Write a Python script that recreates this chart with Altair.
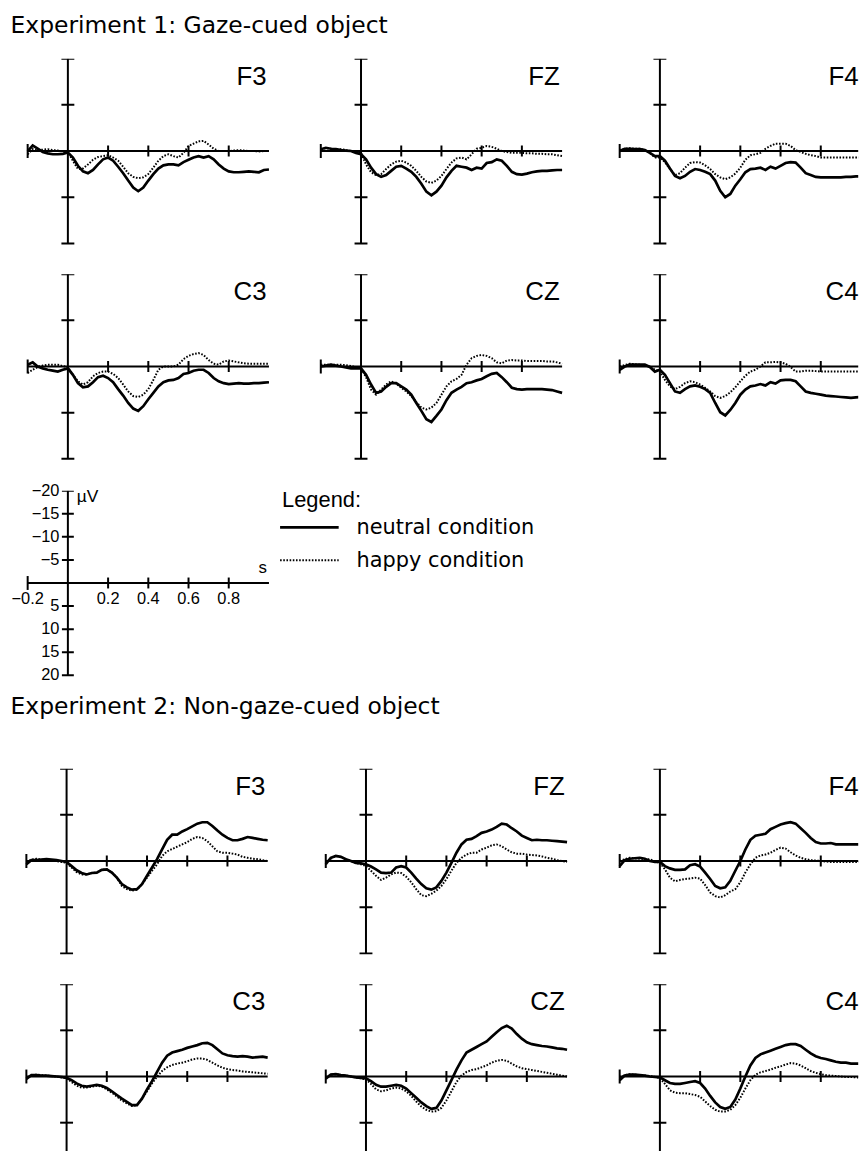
import altair as alt
import pandas as pd

# ---------------- data ----------------
T = [-0.2, -0.175, -0.15, -0.125, -0.1, -0.075, -0.05, -0.025,
     0.0, 0.025, 0.05, 0.075, 0.1, 0.125, 0.15, 0.175,
     0.2, 0.225, 0.25, 0.275, 0.3, 0.325, 0.35, 0.375,
     0.4, 0.425, 0.45, 0.475, 0.5, 0.525, 0.55, 0.575,
     0.6, 0.625, 0.65, 0.675, 0.7, 0.725, 0.75, 0.775,
     0.8, 0.825, 0.85, 0.875, 0.9, 0.925, 0.95, 0.975,
     1.0]

TITLE_1 = "Experiment 1: Gaze-cued object"
TITLE_2 = "Experiment 2: Non-gaze-cued object"
ELECTRODES = [["F3", "FZ", "F4"], ["C3", "CZ", "C4"]]

E1_F3_N = [0.0, -1.2, -0.5, 0.2, 0.5, 0.7, 0.7, 0.6, 0.3, 1.4, 3.2, 4.4, 4.8, 4.1, 2.9, 1.8, 1.4, 2.1, 3.4, 4.8, 6.4, 7.9, 8.7, 7.9, 6.4, 5.0, 3.8, 3.1, 2.9, 2.9, 3.1, 2.4, 1.9, 1.4, 1.1, 1.4, 1.1, 1.8, 2.9, 3.8, 4.4, 4.6, 4.6, 4.5, 4.4, 4.5, 4.6, 4.1, 4.0]
E1_F3_H = [0.7, -0.4, -0.2, -0.3, -0.4, -0.2, -0.1, 0.1, 0.2, 2.1, 3.9, 3.8, 2.9, 1.9, 1.3, 1.1, 0.9, 1.4, 2.1, 3.4, 4.8, 5.6, 5.9, 5.7, 5.0, 3.6, 2.1, 1.1, 0.7, 1.1, 1.4, 0.4, -1.1, -1.6, -2.1, -2.2, -1.4, -0.5, 0.0, 0.0, 0.0, -0.1, -0.2, -0.1, 0.0, 0.0, 0.1, 0.0, 0.0]
E1_FZ_N = [-0.4, -0.7, -0.5, -0.4, -0.2, -0.1, 0.0, 0.4, 0.7, 1.8, 3.6, 5.0, 5.6, 5.2, 4.3, 3.4, 3.2, 3.8, 4.5, 5.6, 7.1, 8.8, 9.6, 8.8, 7.5, 5.7, 4.3, 3.2, 3.4, 3.6, 4.1, 3.6, 3.8, 2.6, 2.4, 1.8, 2.1, 3.2, 4.5, 5.0, 5.1, 4.9, 4.6, 4.4, 4.3, 4.3, 4.2, 4.1, 4.1]
E1_FZ_H = [-0.4, -0.6, -0.5, -0.4, -0.4, -0.2, 0.0, 0.2, 0.4, 2.9, 4.6, 5.2, 5.0, 3.9, 2.9, 2.3, 2.1, 2.5, 3.2, 4.3, 5.6, 6.6, 6.9, 6.4, 5.4, 3.9, 2.5, 1.6, 1.4, 1.8, 0.7, -0.5, -0.7, -1.1, -0.9, -0.5, 0.0, 0.2, 0.4, 0.4, 0.4, 0.5, 0.5, 0.6, 0.6, 0.7, 0.7, 0.9, 1.1]
E1_F4_N = [0.0, -0.5, -0.5, -0.4, -0.4, -0.2, 0.4, 1.1, 1.1, 2.1, 3.8, 5.4, 5.9, 5.4, 4.5, 3.9, 4.1, 4.5, 5.0, 6.4, 8.6, 10.0, 9.3, 7.5, 6.1, 4.6, 3.9, 3.8, 3.6, 4.1, 3.4, 3.8, 3.2, 2.6, 2.4, 2.5, 3.6, 4.8, 5.2, 5.6, 5.7, 5.7, 5.7, 5.7, 5.7, 5.6, 5.6, 5.5, 5.5]
E1_F4_H = [-0.2, -0.5, -0.6, -0.5, -0.5, -0.2, 0.4, 1.4, 1.4, 2.4, 3.9, 5.2, 4.8, 3.6, 2.6, 2.4, 2.5, 3.1, 3.9, 5.0, 5.7, 6.1, 5.7, 4.9, 3.6, 1.9, 0.9, 0.7, 0.4, -0.5, -1.1, -1.6, -1.6, -1.6, -1.1, -0.2, 0.2, 0.6, 0.9, 1.1, 1.4, 1.4, 1.4, 1.4, 1.4, 1.4, 1.4, 1.4, 1.4]
E1_C3_N = [-0.4, -0.9, 0.0, 0.4, 0.7, 0.9, 1.1, 0.7, 0.4, 1.8, 3.6, 4.5, 4.3, 3.4, 2.3, 2.0, 2.5, 3.4, 4.9, 6.3, 7.9, 9.1, 9.6, 8.6, 7.1, 5.7, 4.3, 3.4, 3.0, 2.9, 2.5, 1.6, 1.4, 0.9, 0.7, 0.7, 1.4, 2.5, 3.2, 3.6, 3.8, 3.7, 3.6, 3.7, 3.7, 3.6, 3.6, 3.5, 3.4]
E1_C3_H = [1.4, 0.7, 0.1, -0.2, -0.4, -0.4, -0.4, -0.1, 0.1, 1.8, 3.2, 3.9, 3.4, 2.1, 1.4, 1.1, 1.1, 1.6, 2.5, 3.9, 5.4, 6.4, 6.6, 6.1, 4.9, 2.9, 0.7, 0.0, 0.0, 0.0, -0.4, -1.6, -2.3, -2.7, -2.9, -2.5, -1.4, -0.6, -0.4, -1.1, -1.3, -1.1, -0.9, -0.7, -0.6, -0.6, -0.6, -0.6, -0.6]
E1_CZ_N = [0.0, -0.2, -0.4, -0.2, 0.0, 0.2, 0.4, 0.4, 0.4, 1.8, 3.9, 5.7, 5.4, 4.4, 3.6, 3.6, 4.3, 5.0, 6.1, 7.9, 9.6, 11.4, 12.0, 10.7, 9.3, 7.3, 5.7, 5.0, 4.4, 3.6, 3.4, 3.0, 2.7, 2.1, 1.6, 1.4, 2.3, 3.4, 4.6, 4.9, 5.0, 4.9, 4.9, 4.9, 4.9, 5.0, 5.1, 5.4, 5.7]
E1_CZ_H = [-0.4, -0.4, -0.4, -0.4, -0.4, -0.3, -0.1, 0.1, 0.4, 2.3, 5.0, 6.1, 5.0, 3.9, 3.2, 3.7, 4.6, 5.4, 6.4, 7.7, 8.9, 9.3, 8.9, 7.9, 6.1, 4.3, 3.2, 2.7, 1.8, -0.4, -1.8, -2.3, -2.5, -2.3, -1.8, -0.9, -0.7, -1.3, -1.4, -1.3, -1.3, -1.2, -1.2, -1.2, -1.2, -1.1, -1.1, -0.9, -0.6]
E1_C4_N = [0.7, 0.0, -0.4, -0.4, -0.4, -0.4, 0.1, 1.1, 0.7, 1.8, 3.6, 5.4, 5.7, 4.9, 4.3, 4.1, 4.4, 4.9, 5.7, 7.9, 9.9, 10.6, 9.4, 7.9, 6.1, 5.0, 4.3, 4.1, 3.8, 4.1, 3.4, 3.7, 3.0, 2.9, 2.9, 3.2, 4.3, 5.4, 5.7, 5.9, 6.1, 6.3, 6.4, 6.5, 6.6, 6.7, 6.8, 6.7, 6.6]
E1_C4_H = [0.0, -0.3, -0.6, -0.5, -0.4, -0.2, 0.0, 0.7, 1.1, 2.9, 4.3, 4.9, 4.4, 3.6, 3.2, 3.4, 3.9, 4.6, 5.4, 6.4, 6.8, 6.4, 5.6, 4.5, 3.2, 2.0, 1.1, 0.7, 0.0, -0.9, -0.9, -1.0, -0.9, -0.6, 0.1, 1.1, 1.1, 0.9, 0.9, 1.0, 1.1, 1.1, 1.1, 1.1, 1.1, 1.1, 1.1, 1.1, 1.1]

E2_F3_N = [0.7, -0.2, -0.2, -0.3, -0.4, -0.3, -0.2, 0.0, 0.2, 1.1, 2.0, 2.6, 2.9, 2.6, 2.5, 1.9, 1.8, 2.5, 3.6, 5.0, 5.7, 6.2, 6.1, 5.0, 3.2, 1.4, -0.4, -2.5, -4.6, -5.7, -5.7, -6.4, -6.9, -7.5, -8.1, -8.4, -8.4, -7.6, -6.6, -5.7, -5.0, -4.5, -4.5, -4.8, -5.2, -5.0, -4.8, -4.6, -4.5]
E2_F3_H = [0.2, -0.3, -0.5, -0.3, -0.2, -0.1, 0.0, 0.2, 0.4, 1.4, 2.4, 2.9, 2.9, 2.6, 2.5, 1.9, 1.8, 2.5, 3.6, 5.4, 6.1, 6.4, 6.2, 5.0, 3.6, 2.1, 0.7, -1.1, -2.1, -2.6, -3.1, -3.6, -4.1, -4.8, -5.2, -5.0, -4.3, -3.2, -2.1, -1.8, -1.8, -1.6, -1.4, -0.9, -0.7, -0.5, -0.4, -0.2, 0.0]
E2_FZ_N = [0.7, -0.7, -1.1, -0.9, -0.4, 0.0, 0.4, 0.5, 0.7, 1.2, 1.8, 2.5, 2.6, 2.5, 1.4, 1.1, 1.4, 2.5, 3.8, 5.0, 5.9, 6.2, 5.7, 4.3, 2.5, 0.4, -1.8, -3.6, -4.6, -4.8, -5.4, -6.1, -6.4, -6.8, -7.4, -8.1, -7.9, -7.1, -6.4, -5.5, -5.0, -4.5, -4.6, -4.5, -4.5, -4.4, -4.3, -4.2, -4.1]
E2_FZ_H = [0.4, -0.5, -1.1, -0.9, -0.4, 0.0, 0.4, 0.7, 1.1, 2.1, 3.2, 4.1, 3.6, 2.9, 2.5, 2.6, 3.4, 4.6, 6.1, 7.4, 7.6, 7.1, 6.4, 5.4, 3.9, 2.1, 0.4, -0.7, -1.4, -1.8, -1.8, -2.5, -2.9, -3.4, -3.6, -3.2, -2.5, -1.9, -1.6, -1.6, -1.4, -1.3, -1.2, -1.0, -0.7, -0.5, -0.2, 0.0, 0.2]
E2_F4_N = [1.1, -0.2, -0.5, -0.6, -0.7, -0.5, 0.0, 0.2, 0.2, 1.1, 1.6, 1.9, 1.9, 1.8, 0.9, 0.7, 1.2, 2.5, 3.9, 5.4, 5.9, 5.7, 4.3, 2.1, 0.0, -2.5, -4.6, -5.5, -5.7, -5.9, -6.9, -7.4, -7.9, -8.2, -8.4, -8.1, -7.1, -6.1, -5.0, -4.1, -3.8, -3.8, -3.9, -3.6, -3.6, -3.6, -3.6, -3.6, -3.6]
E2_F4_H = [0.0, -0.4, -0.7, -0.6, -0.5, -0.4, -0.4, 0.1, 0.4, 1.8, 3.6, 4.4, 4.1, 3.9, 3.8, 3.6, 3.8, 5.2, 6.8, 7.6, 7.9, 7.4, 6.6, 6.1, 4.6, 2.5, 0.7, -0.7, -1.2, -1.4, -1.8, -2.4, -2.9, -2.7, -1.9, -1.2, -0.7, -0.4, -0.2, -0.1, 0.0, 0.1, 0.2, 0.2, 0.2, 0.2, 0.2, 0.2, 0.2]
E2_C3_N = [0.5, -0.3, -0.3, -0.2, -0.2, -0.1, 0.0, 0.1, 0.3, 0.8, 1.5, 2.0, 2.2, 2.0, 1.8, 2.0, 2.5, 3.2, 4.0, 4.8, 5.5, 6.2, 6.2, 4.8, 2.8, 1.0, -1.0, -3.0, -4.5, -5.2, -5.5, -5.8, -6.2, -6.5, -6.8, -7.2, -7.3, -6.8, -5.9, -5.0, -4.6, -4.4, -4.3, -4.4, -4.3, -4.1, -4.2, -4.3, -4.1]
E2_C3_H = [0.3, -0.3, -0.4, -0.3, -0.2, -0.1, 0.0, 0.2, 0.4, 1.2, 2.0, 2.4, 2.4, 2.2, 2.0, 2.2, 2.8, 3.5, 4.3, 5.2, 5.8, 6.4, 6.2, 4.8, 3.2, 1.5, 0.0, -1.2, -2.0, -2.5, -2.8, -3.0, -3.3, -3.7, -3.9, -3.9, -3.6, -3.0, -2.4, -1.9, -1.6, -1.4, -1.3, -1.1, -1.0, -0.9, -0.8, -0.7, -0.6]
E2_CZ_N = [0.5, -0.4, -0.5, -0.3, -0.2, 0.0, 0.2, 0.3, 0.4, 1.0, 1.8, 2.2, 2.2, 2.0, 1.8, 2.0, 2.6, 3.6, 4.6, 5.6, 6.4, 7.0, 6.8, 5.2, 3.0, 0.8, -1.5, -3.5, -5.2, -5.8, -6.4, -7.0, -7.6, -8.6, -9.6, -10.5, -11.0, -10.4, -9.2, -8.2, -7.4, -7.0, -6.8, -6.6, -6.5, -6.3, -6.1, -6.0, -5.8]
E2_CZ_H = [0.3, -0.4, -0.5, -0.3, -0.2, 0.0, 0.2, 0.4, 0.6, 1.6, 2.8, 3.2, 3.0, 2.6, 2.4, 2.6, 3.2, 4.2, 5.4, 6.5, 7.2, 7.6, 7.5, 6.8, 5.2, 3.2, 1.2, -0.2, -1.0, -1.4, -1.6, -2.0, -2.4, -3.0, -3.4, -3.6, -3.4, -2.8, -2.2, -1.8, -1.6, -1.4, -1.2, -1.0, -0.8, -0.6, -0.4, -0.2, 0.0]
E2_C4_N = [0.8, -0.2, -0.4, -0.4, -0.3, -0.2, 0.0, 0.1, 0.2, 0.8, 1.4, 1.6, 1.6, 1.4, 1.2, 1.0, 1.4, 2.6, 4.2, 5.6, 6.6, 7.0, 6.6, 5.0, 2.6, 0.0, -2.4, -4.0, -4.8, -5.2, -5.6, -6.0, -6.4, -6.8, -7.0, -7.0, -6.6, -5.8, -5.0, -4.4, -4.0, -3.8, -3.5, -3.2, -3.0, -3.0, -2.8, -2.8, -2.8]
E2_C4_H = [0.2, -0.3, -0.5, -0.4, -0.3, -0.2, -0.1, 0.1, 0.3, 1.6, 3.0, 3.5, 3.6, 3.6, 3.8, 4.0, 4.4, 5.4, 6.4, 7.2, 7.6, 7.6, 7.2, 6.2, 4.6, 2.6, 0.8, -0.4, -0.9, -1.2, -1.5, -1.9, -2.2, -2.6, -2.9, -2.8, -2.4, -1.8, -1.2, -0.8, -0.5, -0.3, -0.2, -0.1, 0.0, 0.1, 0.1, 0.2, 0.2]

EXP1 = {"F3": (E1_F3_N, E1_F3_H), "FZ": (E1_FZ_N, E1_FZ_H), "F4": (E1_F4_N, E1_F4_H),
        "C3": (E1_C3_N, E1_C3_H), "CZ": (E1_CZ_N, E1_CZ_H), "C4": (E1_C4_N, E1_C4_H)}
EXP2 = {"F3": (E2_F3_N, E2_F3_H), "FZ": (E2_FZ_N, E2_FZ_H), "F4": (E2_F4_N, E2_F4_H),
        "C3": (E2_C3_N, E2_C3_H), "CZ": (E2_CZ_N, E2_CZ_H), "C4": (E2_C4_N, E2_C4_H)}

X_TICKS = [0.2, 0.4, 0.6, 0.8]
X_START = [-0.2]
X_RANGE = [-0.2, 1.0]
Y_TICKS = [-20, -10, 10, 20]
Y_RANGE = [-20, 20]
SCALE_Y_TICKS = [-20, -15, -10, -5, 5, 10, 15, 20]
SCALE_Y_LABELS = ["\u221220", "\u221215", "\u221210", "\u22125", "5", "10", "15", "20"]
SCALE_X_TICKS = [-0.2, 0.2, 0.4, 0.6, 0.8]
SCALE_X_LABELS = ["\u22120.2", "0.2", "0.4", "0.6", "0.8"]
LEGEND_LABELS = ["neutral condition", "happy condition"]

for s in list(EXP1.values()) + list(EXP2.values()):
    assert len(s[0]) == len(T) and len(s[1]) == len(T)

# ---------------- layout (pixels) ----------------
PX = 202.5      # pixels per second
K = 4.65        # pixels per microvolt
TOTAL_W = 856
COLS_E1 = [19.8, 314.8, 615.8]
COLS_E2 = [18.5, 319.8, 615.8]
TOP_H = 47
ROW_H = [217, 210]            # experiment 1 rows
SCALE_H = 280
ROW2_H = [217, 168]           # experiment 2 rows
LABEL_T, LABEL_V = 0.988, -14.3

ARIAL = "Liberation Sans"
DEJAVU = "DejaVu Sans"


def xdoms(cols):
    bounds = [0, cols[1] - 10, cols[2] - 10, TOTAL_W]
    out = []
    for i in range(3):
        x0 = -0.2 - (cols[i] - bounds[i]) / PX
        w = bounds[i + 1] - bounds[i]
        out.append(([x0, x0 + w / PX], w))
    return out


def frame(xs, ys, ytick_vals, ytick_size=13):
    X = lambda f: alt.X(f, type="quantitative", scale=xs, axis=None)
    Y = lambda f: alt.Y(f, type="quantitative", scale=ys, axis=None)
    xax = alt.Chart(pd.DataFrame({"a": [X_RANGE[0]], "b": [X_RANGE[1]], "z": [0.0]})).mark_rule(
        color="black", strokeWidth=2, clip=True).encode(x=X("a"), x2="b", y=Y("z"))
    yax = alt.Chart(pd.DataFrame({"z": [0.0], "a": [Y_RANGE[0]], "b": [Y_RANGE[1]]})).mark_rule(
        color="black", strokeWidth=2, clip=True).encode(x=X("z"), y=Y("a"), y2="b")
    xt = alt.Chart(pd.DataFrame({"t": X_TICKS, "z": [0.0] * len(X_TICKS)})).mark_tick(
        orient="vertical", size=11, thickness=2, color="black", opacity=1, clip=True).encode(x=X("t"), y=Y("z"))
    xc = alt.Chart(pd.DataFrame({"t": X_START, "z": [0.0]})).mark_tick(
        orient="vertical", size=14, thickness=2, color="black", opacity=1, clip=True).encode(x=X("t"), y=Y("z"))
    yt = alt.Chart(pd.DataFrame({"v": ytick_vals, "z": [0.0] * len(ytick_vals)})).mark_tick(
        orient="horizontal", size=ytick_size, thickness=2, color="black", opacity=1, clip=True).encode(x=X("z"), y=Y("v"))
    return [xax, yax, xt, xc, yt]


def panel(name, neutral, happy, xdom, width, height):
    xs = alt.Scale(domain=xdom, nice=False, zero=False)
    ys = alt.Scale(domain=[-20, -20 + height / K], nice=False, zero=False, reverse=True)
    X = lambda f: alt.X(f, type="quantitative", scale=xs, axis=None)
    Y = lambda f: alt.Y(f, type="quantitative", scale=ys, axis=None)
    solid = alt.Chart(pd.DataFrame({"t": T, "v": neutral})).mark_line(
        color="black", strokeWidth=2.7, clip=True).encode(x=X("t"), y=Y("v"))
    dotted = alt.Chart(pd.DataFrame({"t": T, "v": happy})).mark_line(
        color="black", strokeWidth=2, strokeDash=[1.6, 1.6], clip=True).encode(x=X("t"), y=Y("v"))
    lab = alt.Chart(pd.DataFrame({"t": [LABEL_T], "v": [LABEL_V], "s": [name]})).mark_text(
        align="right", baseline="alphabetic", font=ARIAL, fontSize=26, color="black").encode(
        x=X("t"), y=Y("v"), text="s:N")
    return alt.layer(*frame(xs, ys, Y_TICKS), dotted, solid, lab).properties(width=width, height=height)


def row(exp, names, cols, height):
    charts = []
    for (xd, w), nm in zip(xdoms(cols), names):
        n, h = exp[nm]
        charts.append(panel(nm, n, h, xd, w, height))
    return alt.hconcat(*charts, spacing=0, bounds="flush")


def title_chart(text, height):
    return alt.Chart(pd.DataFrame({"s": [text]})).mark_text(
        align="left", baseline="alphabetic", font=DEJAVU, fontSize=23.6, color="black").encode(
        x=alt.value(2.5), y=alt.value(21.5), text="s:N").properties(width=TOTAL_W, height=height)


def scale_row():
    x0 = -0.2 - COLS_E1[0] / PX
    xs = alt.Scale(domain=[x0, x0 + TOTAL_W / PX], nice=False, zero=False)
    ys = alt.Scale(domain=[-20, -20 + SCALE_H / K], nice=False, zero=False, reverse=True)
    X = lambda f: alt.X(f, type="quantitative", scale=xs, axis=None)
    Y = lambda f: alt.Y(f, type="quantitative", scale=ys, axis=None)
    layers = frame(xs, ys, SCALE_Y_TICKS, ytick_size=12)
    ylab = alt.Chart(pd.DataFrame({"v": SCALE_Y_TICKS, "z": [0.0] * 8, "s": SCALE_Y_LABELS})).mark_text(
        align="right", baseline="middle", dx=-8.5, font=ARIAL, fontSize=16.5, color="black").encode(
        x=X("z"), y=Y("v"), text="s:N")
    xlab = alt.Chart(pd.DataFrame({"t": SCALE_X_TICKS, "z": [0.0] * 5, "s": SCALE_X_LABELS})).mark_text(
        align="center", baseline="alphabetic", dy=21.5, font=ARIAL, fontSize=16.5, color="black").encode(
        x=X("t"), y=Y("z"), text="s:N")
    uv = alt.Chart(pd.DataFrame({"t": [0.0], "v": [-20.0], "s": ["\u00b5V"]})).mark_text(
        align="left", baseline="alphabetic", dx=9, dy=11, font=ARIAL, fontSize=17.5, color="black").encode(
        x=X("t"), y=Y("v"), text="s:N")
    sec = alt.Chart(pd.DataFrame({"t": [1.0], "v": [0.0], "s": ["s"]})).mark_text(
        align="right", baseline="alphabetic", dx=-2, dy=-10, font=ARIAL, fontSize=17, color="black").encode(
        x=X("t"), y=Y("v"), text="s:N")
    leg_title = alt.Chart(pd.DataFrame({"s": ["Legend:"]})).mark_text(
        align="left", baseline="alphabetic", font=ARIAL, fontSize=22, color="black").encode(
        x=alt.value(276), y=alt.value(16), text="s:N")
    leg_solid = alt.Chart(pd.DataFrame({"s": [LEGEND_LABELS[0]]})).mark_rule(
        color="black", strokeWidth=2.7).encode(x=alt.value(274), x2=alt.value(333), y=alt.value(37))
    leg_dot = alt.Chart(pd.DataFrame({"s": [LEGEND_LABELS[1]]})).mark_rule(
        color="black", strokeWidth=2, strokeDash=[1.6, 1.6]).encode(x=alt.value(274), x2=alt.value(333), y=alt.value(70))
    leg_t1 = alt.Chart(pd.DataFrame({"s": [LEGEND_LABELS[0]]})).mark_text(
        align="left", baseline="alphabetic", font=DEJAVU, fontSize=21, color="black").encode(
        x=alt.value(351), y=alt.value(44), text="s:N")
    leg_t2 = alt.Chart(pd.DataFrame({"s": [LEGEND_LABELS[1]]})).mark_text(
        align="left", baseline="alphabetic", font=DEJAVU, fontSize=21, color="black").encode(
        x=alt.value(351), y=alt.value(77), text="s:N")
    t2 = alt.Chart(pd.DataFrame({"s": [TITLE_2]})).mark_text(
        align="left", baseline="alphabetic", font=DEJAVU, fontSize=23.6, color="black").encode(
        x=alt.value(2.5), y=alt.value(225), text="s:N")
    return alt.layer(*layers, ylab, xlab, uv, sec, leg_title, leg_solid, leg_dot, leg_t1, leg_t2, t2).properties(
        width=TOTAL_W, height=SCALE_H)


chart = alt.vconcat(
    title_chart(TITLE_1, TOP_H),
    row(EXP1, ELECTRODES[0], COLS_E1, ROW_H[0]),
    row(EXP1, ELECTRODES[1], COLS_E1, ROW_H[1]),
    scale_row(),
    row(EXP2, ELECTRODES[0], COLS_E2, ROW2_H[0]),
    row(EXP2, ELECTRODES[1], COLS_E2, ROW2_H[1]),
    spacing=0,
).properties(padding=0).configure_view(stroke=None)

chart.save("out.html", embed_options={"renderer": "svg", "actions": False})
